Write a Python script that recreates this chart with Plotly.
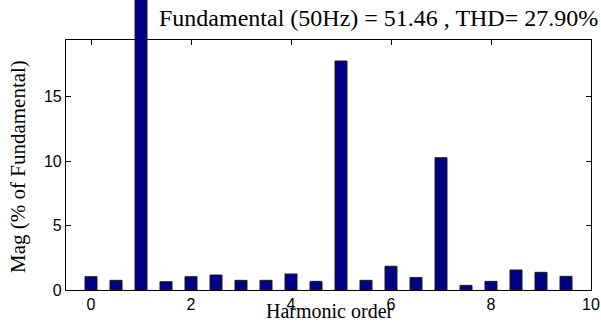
import plotly.graph_objects as go

harmonic_order = [0, 0.5, 1, 1.5, 2, 2.5, 3, 3.5, 4, 4.5, 5, 5.5, 6, 6.5, 7, 7.5, 8, 8.5, 9, 9.5]
mag_percent = [1.03, 0.75, 100.0, 0.64, 1.03, 1.16, 0.75, 0.75, 1.24, 0.67,
               17.75, 0.75, 1.84, 0.96, 10.25, 0.36, 0.67, 1.55, 1.37, 1.06]
x_ticks = [0, 2, 4, 6, 8, 10]
y_ticks = [0, 5, 10, 15]
title_text = "Fundamental (50Hz) = 51.46 , THD= 27.90%"
x_label = "Harmonic order"
y_label = "Mag (% of Fundamental)"

W, H = 601, 329
ML, MR, MT, MB = 66, 10, 0, 39
frame_top_px = 40
plot_h = H - MT - MB
frame_frac = (plot_h - frame_top_px) / plot_h
y_max = 19.38
y2_max = y_max / frame_frac

tick_font = dict(family="Liberation Sans", size=16, color="black")
serif = "Liberation Serif"

fig = go.Figure()
# invisible trace so the framed axes subplot (x/y) is created
fig.add_trace(go.Scatter(x=harmonic_order, y=mag_percent, mode="none",
                         xaxis="x", yaxis="y", hoverinfo="skip"))
fig.add_trace(go.Bar(
    x=harmonic_order, y=mag_percent, xaxis="x", yaxis="y2",
    width=0.24, marker=dict(color="#000088", line=dict(color="#1a1a1a", width=1)),
    hoverinfo="skip",
))

fig.update_layout(
    width=W, height=H,
    margin=dict(l=ML, r=MR, t=MT, b=MB, pad=0),
    paper_bgcolor="white", plot_bgcolor="rgba(0,0,0,0)",
    showlegend=False,
    xaxis=dict(range=[-0.5, 10], tickvals=x_ticks, ticks="inside", ticklen=5,
               tickcolor="black", showline=True, linecolor="black", linewidth=1.2,
               mirror="ticks", showgrid=False, zeroline=False, tickfont=tick_font,
               anchor="y"),
    yaxis=dict(domain=[0, frame_frac], range=[0, y_max], tickvals=y_ticks,
               ticks="inside", ticklen=5, tickcolor="black", showline=True,
               linecolor="black", linewidth=1.2, mirror="ticks", showgrid=False,
               zeroline=False, tickfont=tick_font, anchor="x"),
    yaxis2=dict(domain=[0, 1], range=[0, y2_max], visible=False, anchor="x",
                showgrid=False, zeroline=False),
)

fig.add_annotation(text=title_text, xref="paper", yref="paper",
                   x=(378 - ML) / (W - ML - MR), y=(plot_h - (18 - MT)) / plot_h,
                   xanchor="center", yanchor="middle", showarrow=False,
                   font=dict(family=serif, size=24, color="black"))
fig.add_annotation(text=x_label, xref="paper", yref="paper",
                   x=(330 - ML) / (W - ML - MR), y=(plot_h - (311 - MT)) / plot_h,
                   xanchor="center", yanchor="middle", showarrow=False,
                   font=dict(family=serif, size=20, color="black"))
fig.add_annotation(text=y_label, xref="paper", yref="paper",
                   x=(18 - ML) / (W - ML - MR), y=(plot_h - (167 - MT)) / plot_h,
                   xanchor="center", yanchor="middle", showarrow=False, textangle=-90,
                   font=dict(family=serif, size=21, color="black"))

fig.write_html("out.html")
